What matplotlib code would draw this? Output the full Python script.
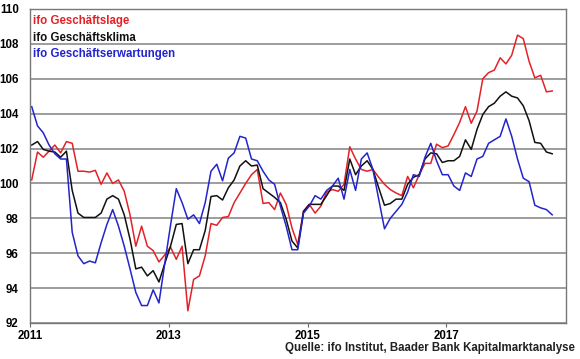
import numpy as np
import matplotlib
matplotlib.use("Agg")
import matplotlib.pyplot as plt

# monthly values, Jan 2011 .. Jul 2018
lage = [100.2, 101.8, 101.5, 101.85, 102.2, 101.75, 102.4, 102.3, 100.7, 100.7,
        100.65, 100.75, 99.95, 100.6, 100.0, 100.2, 99.55, 98.2, 96.4, 97.55,
        96.4, 96.15, 95.5, 95.9, 96.35, 95.65, 96.4, 92.7, 94.5, 94.7,
        95.85, 97.7, 97.6, 98.05, 98.1, 98.9, 99.45, 100.0, 100.5, 100.8,
        98.85, 98.9, 98.5, 99.45, 98.8, 97.45, 96.5, 98.4, 98.8, 98.3,
        98.7, 99.5, 99.65, 99.55, 99.95, 102.1, 101.4, 100.8, 100.7, 100.8,
        100.35, 99.95, 99.65, 99.45, 99.3, 100.4, 99.75, 100.5, 101.15, 101.15,
        102.25, 102.05, 102.15, 102.8, 103.5, 104.4, 103.45, 104.15, 106.0, 106.35,
        106.5, 107.2, 106.85, 107.35, 108.5, 108.3, 107.0, 106.05, 106.2, 105.25,
        105.3]
klima = [102.2, 102.4, 101.95, 101.85, 101.8, 101.5, 101.85, 99.6, 98.3, 98.05,
         98.05, 98.05, 98.3, 99.1, 99.3, 99.1, 98.2, 96.8, 95.1, 95.2,
         94.7, 95.0, 94.35, 95.4, 96.4, 97.65, 97.7, 95.4, 96.2, 96.2,
         97.3, 99.25, 99.3, 99.05, 99.75, 100.2, 101.0, 101.3, 101.0, 101.05,
         99.7, 99.45, 99.2, 98.9, 97.95, 96.7, 96.3, 98.4, 98.8, 98.8,
         98.8, 99.3, 99.85, 99.85, 99.6, 101.4, 100.5, 101.0, 101.3, 100.8,
         99.75, 98.75, 98.85, 99.1, 99.1, 99.95, 100.35, 100.5, 101.4, 101.75,
         101.7, 101.2, 101.3, 101.3, 101.55, 102.5, 101.95, 103.1, 103.95, 104.4,
         104.6, 105.0, 105.25, 105.0, 104.9, 104.45, 103.6, 102.35, 102.3, 101.8,
         101.7]
erwartung = [104.4, 103.3, 102.9, 102.2, 101.7, 101.4, 101.4, 97.2, 95.85, 95.4,
             95.55, 95.45, 96.6, 97.65, 98.5, 97.55, 96.4, 95.1, 93.75, 93.0,
             93.0, 93.9, 93.15, 95.4, 97.6, 99.7, 98.9, 97.95, 98.2, 97.7,
             98.9, 100.7, 101.1, 100.15, 101.45, 101.75, 102.7, 102.6, 101.4, 101.3,
             100.7, 100.2, 99.95, 98.7, 97.55, 96.2, 96.2, 98.3, 98.7, 99.3,
             99.1, 99.6, 99.85, 100.3, 99.1, 100.8, 99.6, 101.4, 101.75, 100.8,
             99.1, 97.4, 98.0, 98.4, 98.8, 99.5, 100.5, 100.4, 101.5, 102.3,
             101.3, 100.5, 100.5, 99.85, 99.6, 100.6, 100.4, 101.4, 101.55, 102.3,
             102.5, 102.7, 103.7, 102.7, 101.4, 100.3, 100.1, 98.75, 98.6, 98.5,
             98.2]
jahre = ["2011", "2013", "2015", "2017"]

plt.rcParams['font.family'] = ['Liberation Sans', 'DejaVu Sans']

fig = plt.figure(figsize=(5.8, 3.59), dpi=100)
ax = fig.add_axes([0.0517, 0.1003, 0.9243, 0.8747])

x = np.arange(len(lage))
ax.plot(x, lage, color="#e32228", lw=1.1)
ax.plot(x, klima, color="#111111", lw=1.1)
ax.plot(x, erwartung, color="#2424cc", lw=1.1)

ax.set_ylim(92, 110)
ax.set_yticks(np.arange(92, 111, 2))
ax.set_xlim(-0.3, 92.4)
ax.set_xticks([-0.3 + 24 * i for i in range(len(jahre))])
ax.set_xticklabels(jahre)
ax.yaxis.grid(True, color="#8c8c8c", lw=1.2)
ax.set_axisbelow(True)
ax.tick_params(axis="y", length=0, pad=8)
ax.tick_params(axis="x", length=3, pad=2, color="#666666")
for lab in ax.get_xticklabels() + ax.get_yticklabels():
    lab.set_fontsize(8.3)
    lab.set_fontweight("bold")
for s in ax.spines.values():
    s.set_color("#777777")
    s.set_linewidth(1.0)

# legend as plain text
ax.text(0.006, 0.961, "ifo Geschäftslage", transform=ax.transAxes, color="#e32228",
        fontsize=8.3, fontweight="bold", va="center")
ax.text(0.006, 0.909, "ifo Geschäftsklima", transform=ax.transAxes, color="#111111",
        fontsize=8.3, fontweight="bold", va="center")
ax.text(0.006, 0.857, "ifo Geschäftserwartungen", transform=ax.transAxes, color="#2424cc",
        fontsize=8.3, fontweight="bold", va="center")

fig.text(0.991, 0.031, "Quelle: ifo Institut, Baader Bank Kapitalmarktanalyse",
         ha="right", va="center", fontsize=8.3, fontweight="bold", color="#222222")

fig.savefig("out.png", dpi=100)
